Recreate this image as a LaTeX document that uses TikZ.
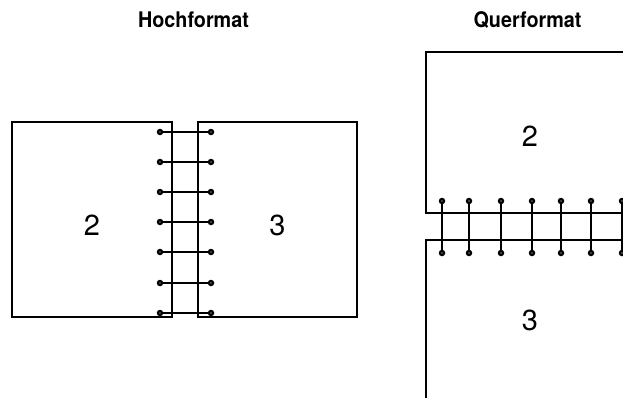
\documentclass[tikz,border=0pt]{standalone}
\usepackage{fontspec}
\setmainfont{TeX Gyre Heros}
\newfontfamily\titlefont[FakeStretch=0.92]{TeX Gyre Heros}
\begin{document}
\begin{tikzpicture}[x=1pt,y=-1pt,
  page/.style={draw=black,line width=1.2pt},
  staple/.style={draw=black,line width=2.8pt},
  dot/.style={circle,fill=black,inner sep=0pt,minimum size=6.5pt},
  hole/.style={circle,fill=white,inner sep=0pt,minimum size=1.3pt},
  title/.style={font=\titlefont\bfseries\fontsize{21.5}{24}\selectfont},
  num/.style={font=\fontsize{29}{32}\selectfont}]
\useasboundingbox (0,0) rectangle (623,397);
\clip (0,0) rectangle (623,397);
% titles
\node[title] (t1) at (193.5,19.5) {Hochformat};
\node[title] (t2) at (527.5,19.5) {Querformat};
% portrait pages
\draw[page] (12,122) rectangle (172,317);
\draw[page] (198,122) rectangle (357,317);
\node[num] (p2) at (92,225) {2};
\node[num] (p3) at (277.5,225) {3};
\foreach \y [count=\i] in {132,162,192,222,252,283,313}{
  \draw[staple] (160,\y) coordinate (a\i) -- (211,\y) coordinate (b\i);
  \node[dot] at (a\i) {}; \node[hole] at (a\i) {};
  \node[dot] at (b\i) {}; \node[hole] at (b\i) {};
}
% landscape pages
\draw[page] (650,213) -- (426,213) -- (426,52) -- (650,52);
\draw[page] (650,240) -- (426,240) -- (426,410);
\node[num] (q2) at (530,136) {2};
\node[num] (q3) at (530,320) {3};
\foreach \x [count=\i] in {442,469,501,532,561,591,622}{
  \draw[staple] (\x,201) coordinate (c\i) -- (\x,253) coordinate (d\i);
  \node[dot] at (c\i) {}; \node[hole] at (c\i) {};
  \node[dot] at (d\i) {}; \node[hole] at (d\i) {};
}
\end{tikzpicture}
\end{document}
